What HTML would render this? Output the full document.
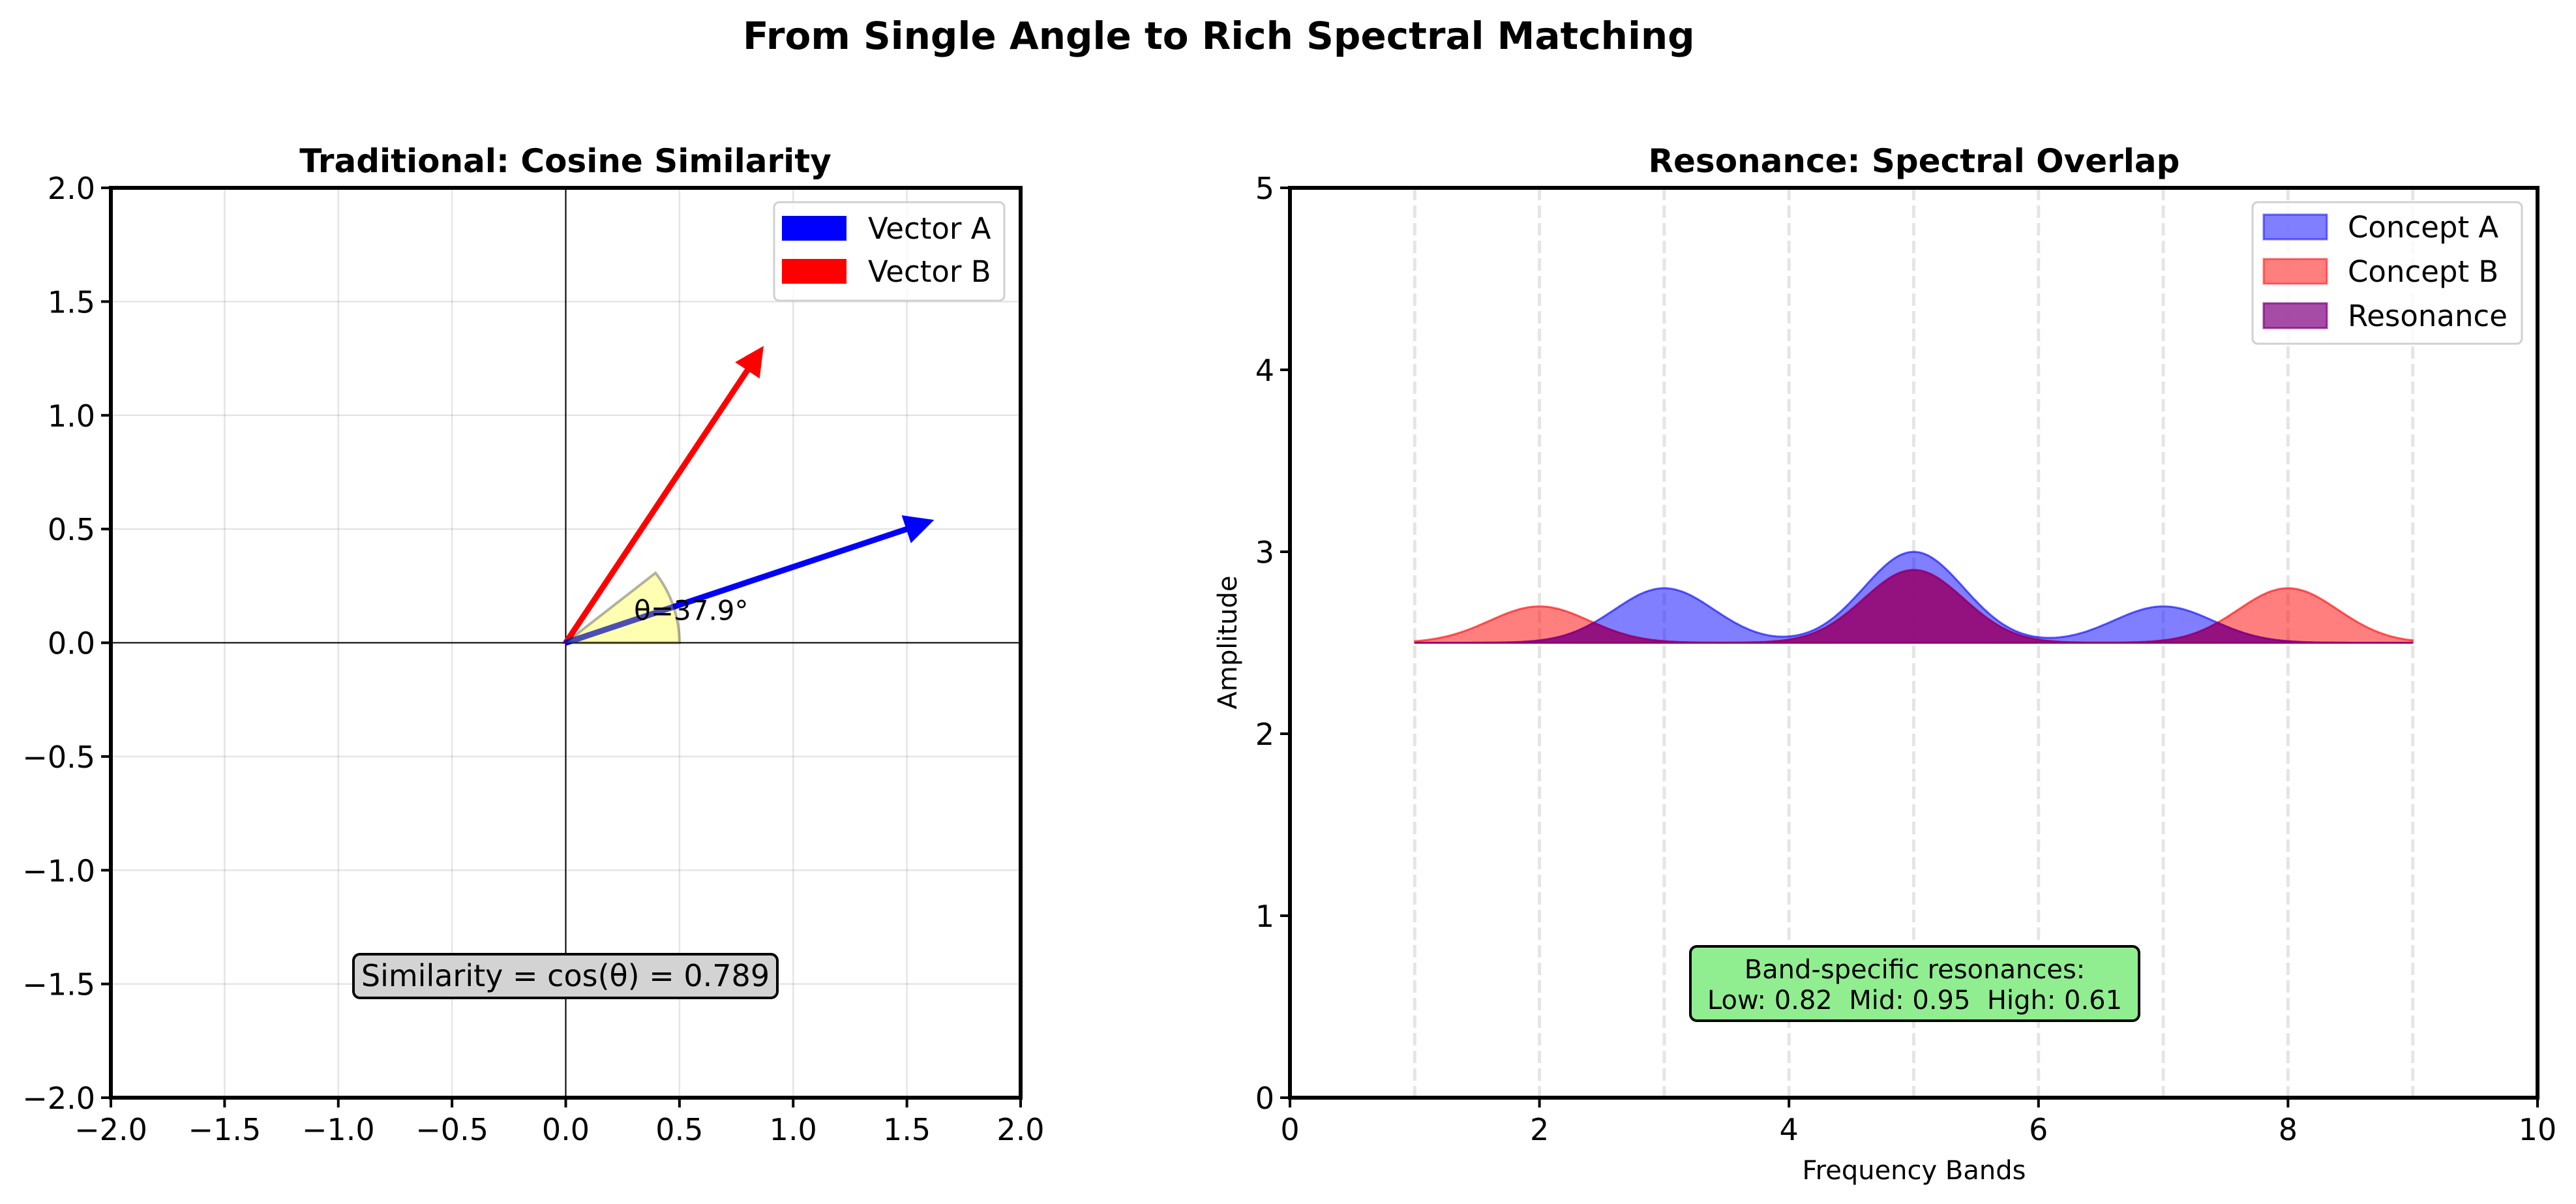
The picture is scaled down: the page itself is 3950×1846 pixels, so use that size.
<!DOCTYPE html>
<html><head><meta charset="utf-8">
<style>
html,body{margin:0;padding:0;background:#fff;}
svg{display:block;font-family:"DejaVu Sans","Liberation Sans",sans-serif;}
</style></head>
<body>
<svg id="fig" width="3950" height="1846" viewBox="0 0 3950 1846" xmlns="http://www.w3.org/2000/svg">
<rect width="3950" height="1846" fill="#fff"/>
<text x="1139" y="75" font-size="58" font-weight="bold">From Single Angle to Rich Spectral Matching</text>
<text x="867" y="264" font-size="50" font-weight="bold" text-anchor="middle">Traditional: Cosine Similarity</text>
<text x="2935" y="264" font-size="50" font-weight="bold" text-anchor="middle">Resonance: Spectral Overlap</text>
<g id="left"></g>
<g id="right"></g>
</svg>
<script>
// ---- Left chart data ----
const vecA = [1.5, 0.5];
const vecB = [0.8, 1.2];
const leftTicks = [-2.0, -1.5, -1.0, -0.5, 0.0, 0.5, 1.0, 1.5, 2.0];
const angleText = "θ=37.9°";
const simText = "Similarity = cos(θ) = 0.789";
// ---- Right chart data ----
const peakCentersA = [3, 5, 7];
const peakAmpsA = [0.3, 0.5, 0.2];
const peakCentersB = [2, 5, 8];
const peakAmpsB = [0.2, 0.4, 0.3];
const baseline = [2.5];
const bandLines = [1, 2, 3, 4, 5, 6, 7, 8, 9];
const rightXTicks = [0, 2, 4, 6, 8, 10];
const rightYTicks = [0, 1, 2, 3, 4, 5];

const NS = "http://www.w3.org/2000/svg";
function mk(parent, tag, attrs, text) {
  const e = document.createElementNS(NS, tag);
  for (const k in attrs) e.setAttribute(k, attrs[k]);
  if (text !== undefined) e.textContent = text;
  parent.appendChild(e);
  return e;
}
function fmt(v){ const s=v.toFixed(1); return v<0 ? "\u2212"+s.slice(1) : s; }

// ===== LEFT =====
const L = document.getElementById("left");
const lx0=170, lx1=1565, ly0=288, ly1=1683;
const lsx = v => lx0 + (v+2)/4*(lx1-lx0);
const lsy = v => ly1 - (v+2)/4*(ly1-ly0);
leftTicks.forEach(t => {
  let g = mk(L,"line",{x1:lsx(t),x2:lsx(t),y1:ly0,y2:ly1,stroke:"#000","stroke-opacity":0.1,"stroke-width":2.5});
  
  
  g = mk(L,"line",{x1:lx0,x2:lx1,y1:lsy(t),y2:lsy(t),stroke:"#000","stroke-opacity":0.1,"stroke-width":2.5});
  
  
});
let z = mk(L,"line",{x1:lsx(0),x2:lsx(0),y1:ly0,y2:ly1,stroke:"#000","stroke-width":2});


z = mk(L,"line",{x1:lx0,x2:lx1,y1:lsy(0),y2:lsy(0),stroke:"#000","stroke-width":2});



function arrowPts(v){
  const len = Math.hypot(v[0],v[1]);
  const ux=v[0]/len, uy=v[1]/len, px=-uy, py=ux;
  const w=0.01, hw=0.06, hl=0.12;
  const pts=[[px*w,py*w],[v[0]+px*w,v[1]+py*w],[v[0]+px*hw,v[1]+py*hw],[v[0]+ux*hl,v[1]+uy*hl],
    [v[0]-px*hw,v[1]-py*hw],[v[0]-px*w,v[1]-py*w],[-px*w,-py*w]];
  return pts.map(p=>lsx(p[0])+","+lsy(p[1])).join(" ");
}
const arB = mk(L,"polygon",{points:arrowPts(vecB),fill:"#ff0000",stroke:"#ff0000","stroke-width":2});


const arA = mk(L,"polygon",{points:arrowPts(vecA),fill:"#0000ff",stroke:"#0000ff","stroke-width":2});



// wedge from 0 to the angle between vectors
const a1=Math.atan2(vecA[1],vecA[0]), a2=Math.atan2(vecB[1],vecB[0]), r=0.5;
const span=a2-a1;
let wd="M"+lsx(0)+","+lsy(0);
for(let i=0;i<=40;i++){const a=span*i/40; wd+=" L"+lsx(r*Math.cos(a))+","+lsy(r*Math.sin(a));}
wd+=" Z";
const wedge = mk(L,"path",{d:wd,fill:"#ffff00","fill-opacity":0.3,stroke:"#000","stroke-opacity":0.3,"stroke-width":4});


const at = mk(L,"text",{x:lsx(0.3),y:lsy(0.1),"font-size":42},angleText);



// similarity box
const sb = mk(L,"rect",{x:542,y:1463,width:650,height:67,rx:10,fill:"#d3d3d3",stroke:"#000","stroke-width":4});


const st = mk(L,"text",{x:867,y:1512,"font-size":46,"text-anchor":"middle"},simText);



// spines & ticks
const ls = mk(L,"rect",{x:lx0,y:ly0,width:lx1-lx0,height:ly1-ly0,fill:"none",stroke:"#000","stroke-width":6});


leftTicks.forEach(t=>{
  let e = mk(L,"line",{x1:lsx(t),x2:lsx(t),y1:ly1,y2:ly1+15,stroke:"#000","stroke-width":4});
  
  
  e = mk(L,"text",{x:lsx(t),y:1748,"font-size":46,"text-anchor":"middle"},fmt(t));
  
  
  e = mk(L,"line",{x1:lx0-15,x2:lx0,y1:lsy(t),y2:lsy(t),stroke:"#000","stroke-width":4});
  
  
  e = mk(L,"text",{x:146,y:lsy(t)+17,"font-size":46,"text-anchor":"end"},fmt(t));
  
  
});
// legend
const lg = mk(L,"rect",{x:1187,y:310,width:353,height:151,rx:8,fill:"#fff","fill-opacity":0.8,stroke:"#d0d0d0","stroke-width":3});


[["Vector A","#0000ff",350],["Vector B","#ff0000",416]].forEach(([lab,c,y])=>{
  let e = mk(L,"rect",{x:1199,y:y-19,width:99,height:38,fill:c});
  
  
  e = mk(L,"text",{x:1331,y:y+16,"font-size":45},lab);
  
  
});

// ===== RIGHT =====
const R = document.getElementById("right");
const rx0=1978, rx1=3891, ry0=288, ry1=1683;
const rsx = v => rx0 + v/10*(rx1-rx0);
const rsy = v => ry1 - v/5*(ry1-ry0);
bandLines.forEach(b=>{
  const e = mk(R,"line",{x1:rsx(b),x2:rsx(b),y1:ry0,y2:ry1,stroke:"#000","stroke-opacity":0.1,"stroke-width":5,"stroke-dasharray":"19,8"});
  
  
});
const sigma=0.4;
function spec(cs,as,x){let v=baseline[0];cs.forEach((c,i)=>{v+=as[i]*Math.exp(-((x-c)**2)/(2*sigma*sigma));});return v;}
const xs=[]; for(let i=0;i<=400;i++) xs.push(1+8*i/400);
const yA=xs.map(x=>spec(peakCentersA,peakAmpsA,x));
const yB=xs.map(x=>spec(peakCentersB,peakAmpsB,x));
const yR=xs.map((x,i)=>Math.min(yA[i],yB[i]));
function area(ys){
  let d="M"+rsx(xs[0])+","+rsy(baseline[0]);
  xs.forEach((x,i)=>{d+=" L"+rsx(x).toFixed(1)+","+rsy(ys[i]).toFixed(1);});
  d+=" L"+rsx(xs[xs.length-1])+","+rsy(baseline[0])+" Z";
  return d;
}
const fA = mk(R,"path",{d:area(yA),fill:"#0000ff","fill-opacity":0.5,stroke:"#0000ff","stroke-opacity":0.6,"stroke-width":3});


const fB = mk(R,"path",{d:area(yB),fill:"#ff0000","fill-opacity":0.5,stroke:"#ff0000","stroke-opacity":0.6,"stroke-width":3});


const fR = mk(R,"path",{d:area(yR),fill:"#800080","fill-opacity":0.7,stroke:"#800080","stroke-opacity":0.7,"stroke-width":3});



const gb = mk(R,"rect",{x:2592,y:1451,width:688,height:114,rx:10,fill:"#90ee90",stroke:"#000","stroke-width":4});


let t1 = mk(R,"text",{x:2936,y:1500,"font-size":40,"text-anchor":"middle"},"Band-specific resonances:");


t1 = mk(R,"text",{x:2936,y:1547,"font-size":40,"text-anchor":"middle"},"Low: 0.82\u00a0\u00a0Mid: 0.95\u00a0\u00a0High: 0.61");



const rs = mk(R,"rect",{x:rx0,y:ry0,width:rx1-rx0,height:ry1-ry0,fill:"none",stroke:"#000","stroke-width":6});


rightXTicks.forEach(t=>{
  let e = mk(R,"line",{x1:rsx(t),x2:rsx(t),y1:ry1,y2:ry1+15,stroke:"#000","stroke-width":4});
  
  
  e = mk(R,"text",{x:rsx(t),y:1748,"font-size":46,"text-anchor":"middle"},String(t));
  
  
});
rightYTicks.forEach(t=>{
  let e = mk(R,"line",{x1:rx0-15,x2:rx0,y1:rsy(t),y2:rsy(t),stroke:"#000","stroke-width":4});
  
  
  e = mk(R,"text",{x:1954,y:rsy(t)+17,"font-size":46,"text-anchor":"end"},String(t));
  
  
});
let xl = mk(R,"text",{x:2935,y:1808,"font-size":40,"text-anchor":"middle"},"Frequency Bands");


xl = mk(R,"text",{x:1896,y:985,"font-size":40,"text-anchor":"middle",transform:"rotate(-90 1896 985)"},"Amplitude");



const rg = mk(R,"rect",{x:3454,y:310,width:413,height:217,rx:8,fill:"#fff","fill-opacity":0.8,stroke:"#d0d0d0","stroke-width":3});


[["Concept A","#0000ff",0.5,348],["Concept B","#ff0000",0.5,416],["Resonance","#800080",0.7,484]].forEach(([lab,c,op,y])=>{
  let e = mk(R,"rect",{x:3471,y:y-19,width:97,height:38,fill:c,"fill-opacity":op,stroke:c,"stroke-opacity":op,"stroke-width":3});
  
  
  e = mk(R,"text",{x:3600,y:y+16,"font-size":45},lab);
  
  
});
</script>
</body></html>
